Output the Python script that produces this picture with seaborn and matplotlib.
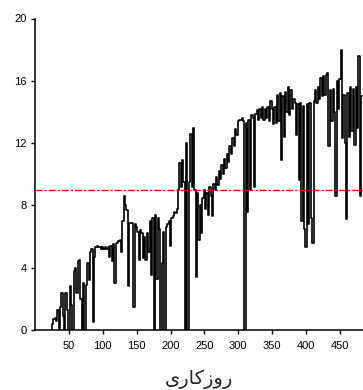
"""Daily series against working day, with a threshold line."""

import matplotlib
matplotlib.use("Agg")
import matplotlib.pyplot as plt
import numpy as np
import pandas as pd
import seaborn as sns

# values, one every second working day (24 .. 482)
days = np.arange(24, 483, 2)
values = [
    0.0, 0.4, 0.7, 0.8, 0.6, 1.3, 0.0, 1.5, 2.4, 0.9,          # 24-42
    0.0, 2.4, 1.3, 0.0, 2.8, 1.6, 0.0, 3.8, 4.0, 2.4,          # 44-62
    4.4, 4.5, 2.0, 0.0, 3.0, 0.0, 2.9, 4.3, 3.2, 5.0,          # 64-82
    5.2, 0.5, 4.7, 5.3, 5.4, 5.3, 5.3, 5.2, 5.3, 5.2,          # 84-102
    5.3, 5.2, 5.3, 4.7, 5.4, 4.4, 5.5, 3.0, 5.6, 5.6,          # 104-122
    5.7, 5.8, 5.0, 7.0, 8.6, 8.0, 7.7, 2.8, 6.9, 6.9,          # 124-142
    6.9, 1.5, 6.8, 6.6, 6.3, 4.5, 6.4, 6.2, 4.6, 6.0,          # 144-162
    4.5, 6.2, 5.0, 7.0, 3.5, 7.2, 0.0, 7.4, 3.3, 7.2,          # 164-182
    6.5, 0.0, 4.3, 6.3, 0.0, 6.6, 6.8, 7.0, 5.4, 7.2,          # 184-202
    7.3, 7.6, 7.5, 7.8, 9.0, 10.7, 9.2, 10.9, 9.5, 0.0,        # 204-222
    12.0, 0.0, 9.5, 12.6, 9.2, 13.0, 9.0, 3.4, 8.8, 5.8,       # 224-242
    8.0, 6.2, 8.5, 9.0, 7.8, 8.8, 7.4, 9.2, 8.6, 7.3,          # 244-262
    9.4, 9.0, 9.8, 9.3, 10.2, 9.7, 10.6, 10.0, 11.0, 10.4,     # 264-282
    11.3, 10.8, 11.8, 11.3, 12.3, 11.8, 12.9, 12.5, 13.4, 13.5,  # 284-302
    13.5, 13.6, 13.4, 0.0, 13.3, 7.6, 13.5, 9.0, 13.8, 13.6,   # 304-322
    9.2, 13.9, 14.1, 13.5, 14.2, 13.6, 14.3, 13.5, 14.2, 13.6,  # 324-342
    14.3, 13.4, 14.7, 14.2, 13.2, 14.3, 13.3, 15.1, 13.4, 15.2,  # 344-362
    10.9, 15.0, 12.4, 15.3, 14.0, 15.6, 13.8, 15.4, 14.2, 14.8,  # 364-382
    14.6, 12.5, 14.5, 9.6, 14.6, 7.0, 14.4, 6.5, 5.3, 14.5,    # 384-402
    6.8, 14.6, 7.2, 5.6, 14.7, 15.4, 14.6, 15.6, 14.8, 16.2,   # 404-422
    15.0, 16.3, 15.1, 16.4, 16.5, 11.8, 15.4, 13.4, 15.5, 14.0,  # 424-442
    8.6, 16.0, 14.2, 16.1, 18.0, 12.3, 15.1, 12.0, 7.1, 15.2,  # 444-462
    12.4, 15.6, 12.8, 15.5, 11.9, 15.6, 13.0, 17.6, 8.6, 15.0,  # 464-482
]
threshold = 9.0
x_ticks = [50, 100, 150, 200, 250, 300, 350, 400, 450]
y_ticks = [0, 4, 8, 12, 16, 20]
x_label = "روزکاری"

# matplotlib does no Arabic shaping, so pick the joined glyph forms by hand
FORMS = {
    "ر": ("\uFEAD", "\uFEAE"),
    "و": ("\uFEED", "\uFEEE"),
    "ز": ("\uFEAF", "\uFEB0"),
    "ا": ("\uFE8D", "\uFE8E"),
    "ک": ("\uFB8E", "\uFB8F", "\uFB90", "\uFB91"),
    "ی": ("\uFBFC", "\uFBFD", "\uFBFE", "\uFBFF"),
}


def shape_persian(text):
    out = []
    for i, ch in enumerate(text):
        forms = FORMS.get(ch)
        if forms is None:
            out.append(ch)
            continue
        prev = FORMS.get(text[i - 1]) if i > 0 else None
        joins_prev = prev is not None and len(prev) == 4
        joins_next = len(forms) == 4 and i + 1 < len(text) and text[i + 1] in FORMS
        if joins_prev and joins_next:
            out.append(forms[3])
        elif joins_prev:
            out.append(forms[1])
        elif joins_next:
            out.append(forms[2])
        else:
            out.append(forms[0])
    return "".join(reversed(out))


df = pd.DataFrame({"day": days, "value": values})

sns.set_style("ticks")
plt.rcParams["font.family"] = ["Liberation Sans", "DejaVu Sans"]

fig = plt.figure(figsize=(3.63, 3.90), dpi=100)
ax = fig.add_axes([35 / 363, 60 / 390, 328 / 363, 311.5 / 390])

sns.lineplot(data=df, x="day", y="value", color="black", linewidth=1.2,
             drawstyle="steps-mid", ax=ax)
ax.axhline(threshold, color="#ff0000", linewidth=1.0, linestyle=(0, (5, 1.5, 1.5, 1.5)))

ax.set_xlim(0, 484)
ax.set_ylim(0, 20)
ax.set_xticks(x_ticks)
ax.set_yticks(y_ticks)
ax.tick_params(direction="out", length=3, width=1, labelsize=8, colors="black", pad=3)
ax.tick_params(axis="x", pad=5)
for side in ["top", "right"]:
    ax.spines[side].set_visible(False)
for side in ["left", "bottom"]:
    ax.spines[side].set_linewidth(1.1)
    ax.spines[side].set_color("black")

ax.set_ylabel("")
ax.set_xlabel(shape_persian(x_label), fontsize=14, family=["DejaVu Sans"], labelpad=13)

fig.savefig("out.png", dpi=100, facecolor="white")
